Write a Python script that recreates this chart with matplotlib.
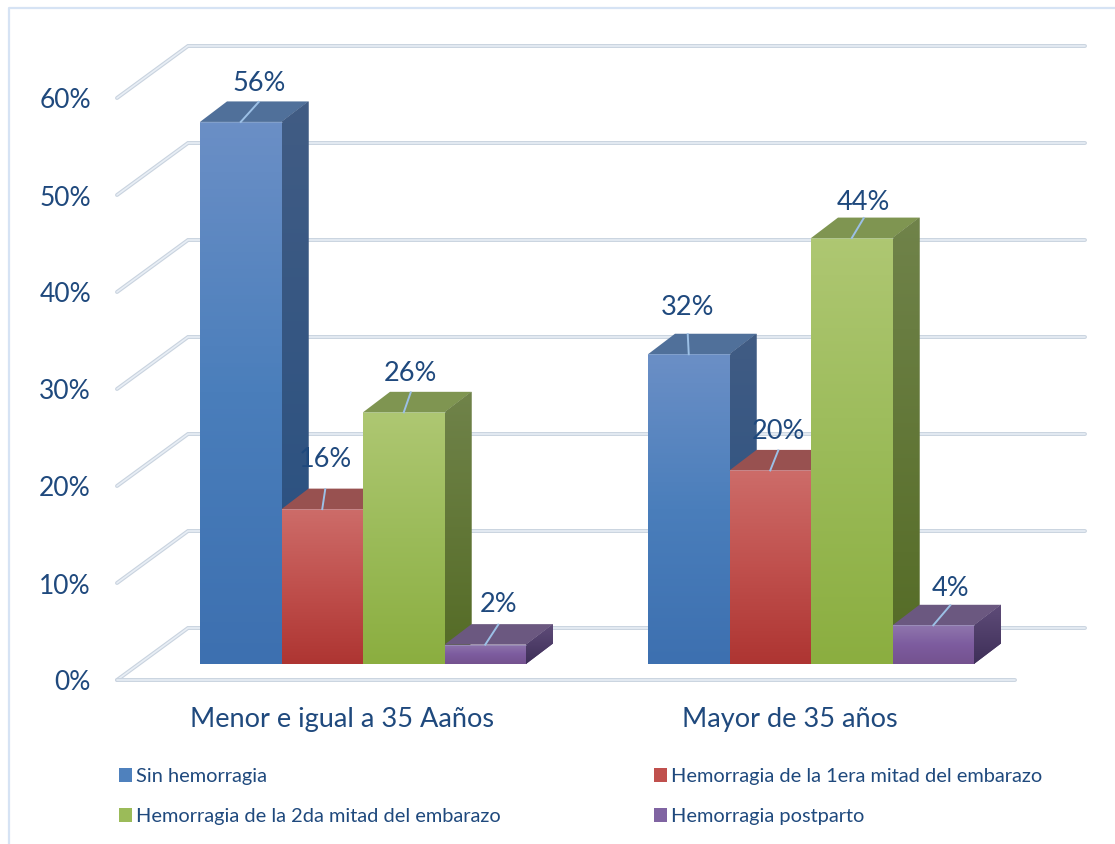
import matplotlib
matplotlib.use("Agg")
import matplotlib.pyplot as plt
from matplotlib.colors import LinearSegmentedColormap
from matplotlib.patches import Patch, Polygon
import numpy as np

plt.rcParams['font.family'] = ['Lato', 'DejaVu Sans']

grupos = ["Menor e igual a 35 Aaños", "Mayor de 35 años"]
series = ["Sin hemorragia", "Hemorragia de la 1era mitad del embarazo",
          "Hemorragia de la 2da mitad del embarazo", "Hemorragia postparto"]
sin_hemorragia = [56, 32]
primera_mitad = [16, 20]
segunda_mitad = [26, 44]
postparto = [2, 4]
valores = [sin_hemorragia, primera_mitad, segunda_mitad, postparto]
ticks = [0, 10, 20, 30, 40, 50, 60]

# escala: 448 px por grupo, 9.68 px por punto porcentual
W, H = 1115, 844
PX_X = 448.0
PX_Y = 9.68
X0_PX = 363.0   # centro del primer grupo
Y0_PX = 664.0   # base de las barras
ANCHO = 81.5 / PX_X
DX = 27 / PX_X
DY = 20.5 / PX_Y
TEXTO = '#1f497d'

# colores: frente (arriba, medio, abajo), lado (arriba, abajo), tapa, leyenda
colores = [
    (['#6b8fc6', '#4a7ebb', '#3d70b0'], ['#415c84', '#264f80'], '#50709a', '#4f81bd'),
    (['#cd6c69', '#c0504d', '#ae3532'], ['#7d3a38', '#772c2a'], '#985150', '#c0504d'),
    (['#aec772', '#9bbb59', '#8bae40'], ['#70834a', '#546b25'], '#7f9551', '#9bbb59'),
    (['#8f76ad', '#7d5c9f', '#74528f'], ['#5f4c79', '#3e2f58'], '#6b5880', '#8064a2'),
]
# desplazamiento de cada etiqueta desde el centro de la barra, px
desp_x = [[18, -1], [3, 8], [7, 12], [13, 17]]
desp_y = [[38, 47], [50, 39], [39, 36], [40, 37]]

fig = plt.figure(figsize=(W / 100, H / 100), dpi=100, facecolor='white')
ax = fig.add_axes([0, 0, 1, 1])
ax.axis('off')
xlim = (-X0_PX / PX_X, (W - X0_PX) / PX_X)
ylim = (-(H - Y0_PX) / PX_Y, Y0_PX / PX_Y)


def px(x, y):
    return (x - X0_PX) / PX_X, (Y0_PX - y) / PX_Y


def gradiente(parche, cols, ext, z):
    cmap = LinearSegmentedColormap.from_list('g', cols)
    grad = np.linspace(0, 1, 128).reshape(-1, 1)
    im = ax.imshow(grad, cmap=cmap, extent=ext, origin='upper', aspect='auto', zorder=z)
    im.set_clip_path(parche)


# marco
marco = [px(9, H + 5), px(9, 8), px(W + 5, 8)]
ax.plot(*zip(*marco), color='#d6e3f4', lw=1.6, zorder=1)

# rejilla con su diagonal
for t in ticks:
    yf = 680 - 9.7 * t
    yb = yf - 52
    xf, xb, xe = 117, 188, 1085
    for col, lw in (('#c9d3df', 2.8), ('#e8eef5', 1.2)):
        ax.plot(*zip(px(xf, yf), px(xb, yb), px(xe, yb)), color=col, lw=lw,
                solid_capstyle='round', solid_joinstyle='miter', zorder=2)
    ax.text(*px(91, yf + 3), f"{t}%", color=TEXTO, fontsize=19, ha='right', va='center')
for col, lw in (('#c9d3df', 2.8), ('#e8eef5', 1.2)):
    ax.plot(*zip(px(117, 680), px(1015, 680)), color=col, lw=lw,
            solid_capstyle='round', zorder=2)

# barras
z = 3
for i, vals in enumerate(valores):
    frente, lado, tapa, base = colores[i]
    xs = np.arange(len(grupos)) + (i - 1.5) * ANCHO
    barras = ax.bar(xs, vals, ANCHO, color=base, edgecolor='none', zorder=z)
    for j, rect in enumerate(barras):
        v = vals[j]
        x0, x1 = xs[j] - ANCHO / 2, xs[j] + ANCHO / 2
        zz = z + j * 0.1
        rect.set_zorder(zz)
        gradiente(rect, frente, (x0, x1, 0, v), zz + 0.01)
        ax.add_patch(Polygon([(x0, v), (x1, v), (x1 + DX, v + DY), (x0 + DX, v + DY)],
                             closed=True, fc=tapa, ec='none', zorder=zz))
        pl = Polygon([(x1, 0), (x1 + DX, DY), (x1 + DX, v + DY), (x1, v)],
                     closed=True, fc=lado[0], ec='none', zorder=zz)
        ax.add_patch(pl)
        gradiente(pl, lado, (x1, x1 + DX, 0, v + DY), zz + 0.01)
        ax.plot([x0, x1], [v, v], color='#b9c6d8', lw=0.6, alpha=0.35, zorder=zz + 0.02)
        # linea guia y etiqueta
        xl = xs[j] + desp_x[i][j] / PX_X
        ax.plot([xs[j], xl], [v, v + 20 / PX_Y], color='#9cc0e6', lw=1.4, zorder=20)
        ax.text(xl, v + desp_y[i][j] / PX_Y, f"{v}%", color=TEXTO, fontsize=19.5,
                ha='center', va='center', zorder=21)
    z += 1

for j, g in enumerate(grupos):
    ax.text(j - 21.5 / PX_X, px(0, 720)[1], g, color=TEXTO,
            fontsize=19.5, ha='center', va='center')

# leyenda en dos columnas
orden = [0, 2, 1, 3]
handles = [Patch(facecolor=colores[k][3], label=series[k]) for k in orden]
ley = ax.legend(handles=handles, ncol=2, frameon=False, loc='upper left',
                bbox_to_anchor=(119 / W, 1 - 768 / H), fontsize=14.4, handlelength=0.65,
                handleheight=0.65, handletextpad=0.2, labelspacing=1.15,
                columnspacing=7.68, borderaxespad=0, borderpad=0)
for t in ley.get_texts():
    t.set_color(TEXTO)

ax.set_xlim(*xlim)
ax.set_ylim(*ylim)
fig.savefig('out.png', dpi=100, facecolor='white')
